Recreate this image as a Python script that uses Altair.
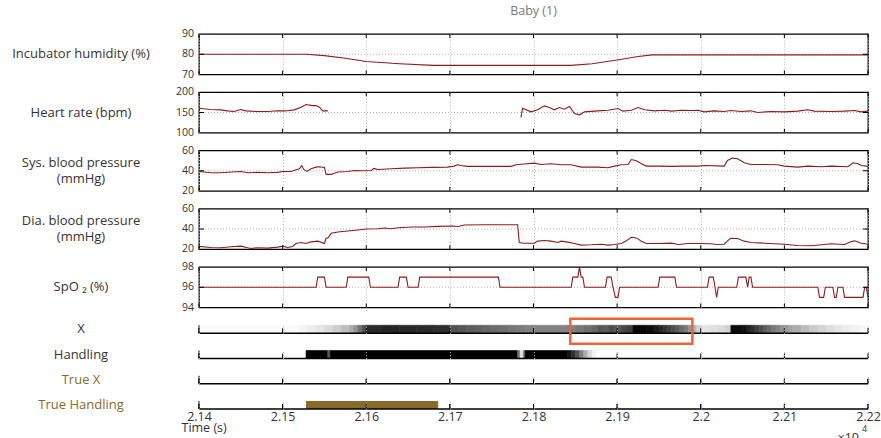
import altair as alt
import pandas as pd

FONT = "Open Sans"
RED = "#8e1b1b"
INK = "#333333"
GOLD = "#8a6a2a"
GRID = "#b4b4b4"
BOX = "#f06432"

T_START, T_END = 2.14, 2.22
X_TICKS = [2.14, 2.15, 2.16, 2.17, 2.18, 2.19, 2.20, 2.21, 2.22]

W = 669
H_LINE = 40.5
H_STRIP = 8
LABEL_X = -118

# ---- physiological signals (time in units of 10^4 s) ----
HUM_T = [2.14, 2.1528, 2.155, 2.1575, 2.16, 2.164, 2.168, 2.1845, 2.187, 2.19, 2.1925, 2.1942, 2.22]
HUM_V = [80, 80, 79.3, 78.0, 76.4, 75.3, 74.5, 74.5, 75.3, 77.2, 78.9, 79.7, 79.7]

HR1_T = [2.14, 2.1414, 2.1426, 2.1434, 2.1442, 2.145, 2.1456, 2.147, 2.1482, 2.1494, 2.15,
         2.1506, 2.1514, 2.1522, 2.1528, 2.1536, 2.154, 2.1544, 2.1548, 2.1554]
HR1_V = [160.6, 157.4, 156.5, 154.0, 152.4, 157.4, 154.0, 152.4, 152.4, 154.5, 154.0,
         154.5, 156.5, 163.0, 169.6, 167.0, 167.0, 163.0, 154.0, 154.0]
HR2_T = [2.1785, 2.1787, 2.1797, 2.1805, 2.1813, 2.1819, 2.1825, 2.1831, 2.1837, 2.1843,
         2.1849, 2.1855, 2.1861, 2.1877, 2.1889, 2.1901, 2.1907, 2.1917, 2.1925, 2.1933,
         2.1945, 2.1957, 2.1965, 2.1977, 2.1989, 2.1997, 2.2004, 2.2016, 2.2028, 2.2036,
         2.2048, 2.206, 2.2068, 2.2084, 2.21, 2.2116, 2.2128, 2.2136, 2.2156, 2.2172,
         2.2184, 2.2192, 2.22]
HR2_V = [138.0, 160.6, 151.6, 156.6, 166.4, 162.3, 156.6, 162.3, 158.2, 164.7,
         147.5, 144.3, 151.6, 154.1, 155.7, 159.8, 153.3, 155.7, 162.3, 156.6,
         154.1, 155.7, 153.3, 155.7, 154.9, 155.7, 151.6, 154.1, 152.5, 154.9,
         152.5, 154.1, 150.0, 152.5, 151.6, 153.3, 156.6, 153.3, 152.5, 153.3,
         154.9, 151.6, 153.3]

SYS_T = [2.14, 2.14144, 2.14263, 2.14383, 2.14502, 2.14582, 2.14702, 2.14821, 2.14941, 2.15001,
         2.151, 2.1516, 2.152, 2.15228, 2.15252, 2.15292, 2.1534, 2.154, 2.1544, 2.155,
         2.1552, 2.1558, 2.1566, 2.1578, 2.1586, 2.1594, 2.1606, 2.1609, 2.1614, 2.163,
         2.1646, 2.1662, 2.1678, 2.1697, 2.1705, 2.1709, 2.1713, 2.1721, 2.1741, 2.1773,
         2.1779, 2.1789, 2.1801,
         2.1809, 2.1821, 2.1833, 2.1845, 2.1857, 2.1877, 2.1889, 2.1897, 2.1905, 2.1913,
         2.1917, 2.1923, 2.1929, 2.1935, 2.1949, 2.1965, 2.1981, 2.1997, 2.2004, 2.2028,
         2.2032, 2.2038, 2.2044, 2.2052, 2.206, 2.2076, 2.2092, 2.21, 2.2116, 2.2128,
         2.2144, 2.2156, 2.2176, 2.2182, 2.2188, 2.2192, 2.22]
SYS_V = [39.3, 38.0, 38.0, 38.7, 39.3, 38.0, 38.4, 38.0, 38.4, 39.3,
         39.3, 41.0, 42.0, 45.2, 41.3, 39.3, 42.0, 43.6, 43.9, 43.3,
         36.4, 36.4, 38.7, 39.3, 40.3, 40.0, 40.3, 42.3, 41.3, 42.0,
         42.6, 43.0, 43.3, 43.6, 44.6, 45.9, 45.2, 44.3, 44.3, 44.3,
         45.9, 46.6, 47.5,
         46.2, 46.9, 45.9, 45.9, 43.6, 43.6, 43.0, 44.6, 45.9, 46.2,
         51.1, 49.8, 46.9, 44.6, 44.6, 44.3, 44.6, 44.6, 45.2, 44.6,
         50.2, 52.5, 51.8, 47.9, 46.2, 46.2, 45.9, 44.6, 43.6, 44.6,
         43.9, 44.6, 43.9, 47.9, 46.9, 45.2, 44.3]

DIA_T = [2.14, 2.14144, 2.14263, 2.14383, 2.14502, 2.14582, 2.14622, 2.14702, 2.14821, 2.14941,
         2.15001, 2.1506, 2.1512, 2.1516, 2.1522, 2.1528, 2.1534, 2.1542, 2.155, 2.1552,
         2.15547, 2.1558, 2.1566, 2.1578, 2.159, 2.16, 2.1614, 2.1622, 2.163, 2.1638,
         2.1654, 2.167, 2.1686, 2.1705, 2.1709, 2.1717, 2.1741, 2.1761, 2.1781, 2.1783,
         2.1789, 2.1801,
         2.1805, 2.1813, 2.1821, 2.1829, 2.1833, 2.1841, 2.1849, 2.1857, 2.1869, 2.1881,
         2.1889, 2.1897, 2.1905, 2.1911, 2.1917, 2.1923, 2.1929, 2.1935, 2.1949, 2.1965,
         2.1973, 2.1985, 2.1997, 2.2012, 2.202, 2.2028, 2.2032, 2.2036, 2.2044, 2.2052,
         2.206, 2.2076, 2.21, 2.2116, 2.2132, 2.2148, 2.2156, 2.2172, 2.218, 2.2184,
         2.2192, 2.22]
DIA_V = [22.8, 21.8, 21.5, 22.4, 23.1, 21.5, 20.8, 21.5, 21.1, 22.1,
         23.1, 21.8, 22.8, 25.7, 26.7, 25.7, 27.3, 28.0, 25.7, 30.9,
         31.5, 35.8, 37.1, 38.0, 39.0, 40.0, 40.3, 41.0, 40.3, 41.3,
         42.0, 42.0, 42.6, 42.9, 42.3, 43.9, 44.2, 44.2, 44.2, 26.7,
         26.0, 26.0,
         28.0, 28.6, 28.0, 26.7, 28.0, 27.0, 25.7, 24.1, 24.4, 25.0,
         24.1, 24.7, 25.7, 28.3, 31.9, 31.2, 28.0, 25.7, 25.7, 26.0,
         24.7, 25.7, 25.7, 25.4, 24.7, 25.0, 28.3, 30.9, 30.6, 28.0,
         26.7, 26.0, 25.0, 23.7, 23.4, 24.7, 25.4, 24.7, 27.6, 28.3,
         26.0, 25.0]

SPO2_T = [2.14, 2.1540, 2.1542, 2.1550, 2.1552, 2.1576, 2.1578, 2.1603, 2.1605,
          2.1638, 2.1640, 2.1648, 2.1650, 2.1662, 2.1664, 2.1758, 2.1760,
          2.1845, 2.1847, 2.1853, 2.1855, 2.1857, 2.1859, 2.1861,
          2.1886, 2.1888, 2.1893, 2.1895, 2.1898, 2.1901, 2.1903,
          2.1949, 2.1951, 2.1969, 2.1971,
          2.2008, 2.2010, 2.2015, 2.2017, 2.2019, 2.2021,
          2.2043, 2.2045, 2.2054, 2.2056, 2.2058, 2.2060, 2.2062,
          2.2140, 2.2142, 2.2147, 2.2149, 2.2158, 2.2160, 2.2162, 2.2164,
          2.2170, 2.2172, 2.2194, 2.2196, 2.2198, 2.2200]
SPO2_V = [96, 96, 97, 97, 96, 96, 97, 97, 96,
          96, 97, 97, 96, 96, 97, 97, 96,
          96, 97, 97, 98, 97, 97, 96,
          96, 97, 97, 96, 95, 95, 96,
          96, 97, 97, 96,
          96, 97, 97, 96, 95, 96,
          96, 97, 97, 96, 97, 97, 96,
          96, 95, 95, 96, 96, 95, 95, 96,
          96, 95, 95, 96, 96, 95]

# ---- detector output strips: segment start times and probability ----
X_SEG_T = [2.14, 2.152, 2.153, 2.154, 2.155, 2.156, 2.157, 2.158, 2.1585, 2.159, 2.1595,
           2.16, 2.162, 2.164, 2.166, 2.168, 2.17, 2.171, 2.172, 2.173, 2.174, 2.175,
           2.176, 2.177, 2.178, 2.179, 2.18, 2.184, 2.185, 2.186, 2.187, 2.1877, 2.1885,
           2.189, 2.1897, 2.1905, 2.1912, 2.1919, 2.1935, 2.1945, 2.195, 2.1955, 2.196,
           2.1965, 2.197, 2.1975, 2.198, 2.1985, 2.199, 2.1995, 2.2, 2.201, 2.202, 2.203,
           2.2036, 2.205, 2.2055, 2.206, 2.2065, 2.207, 2.2075, 2.208, 2.2085, 2.209,
           2.2095, 2.21, 2.2105, 2.211, 2.212, 2.213, 2.214, 2.215, 2.216, 2.217, 2.218,
           2.219]
X_SEG_P = [0.02, 0.04, 0.07, 0.10, 0.14, 0.19, 0.25, 0.33, 0.42, 0.55, 0.68,
           0.84, 0.86, 0.85, 0.84, 0.82, 0.68, 0.66, 0.64, 0.62, 0.60, 0.58,
           0.56, 0.54, 0.52, 0.50, 0.49, 0.50, 0.53, 0.56, 0.60, 0.66, 0.64,
           0.70, 0.66, 0.72, 0.76, 0.97, 0.95, 0.90, 0.85, 0.80, 0.75,
           0.70, 0.65, 0.58, 0.52, 0.42, 0.30, 0.18, 0.10, 0.12, 0.14, 0.18,
           0.96, 0.94, 0.88, 0.82, 0.76, 0.70, 0.64, 0.58, 0.52, 0.48,
           0.44, 0.40, 0.36, 0.32, 0.26, 0.21, 0.17, 0.13, 0.10, 0.07, 0.05,
           0.03]

HAND_SEG_T = [2.14, 2.1528, 2.1554, 2.1557, 2.1781, 2.1784, 2.1788, 2.1790, 2.1841,
              2.1845, 2.1850, 2.1855, 2.1860, 2.1865, 2.1870, 2.1875]
HAND_SEG_P = [0.0, 1.0, 0.65, 1.0, 0.55, 0.12, 0.55, 1.0, 0.92,
              0.82, 0.68, 0.50, 0.32, 0.16, 0.05, 0.0]

TRUE_HAND_T = [2.1528]
TRUE_HAND_T2 = [2.1686]

HIGHLIGHT_T = [2.1844]
HIGHLIGHT_T2 = [2.1990]


def series(ts, vs, seg=0):
    return pd.DataFrame({"t": ts, "v": vs, "seg": seg})


def segments(ts, ps):
    ends = ts[1:] + [T_END]
    return pd.DataFrame({"t0": ts, "t1": ends, "p": ps})


def xscale():
    return alt.Scale(domain=[T_START, T_END], nice=False, zero=False)


def x_enc(field, axis=None):
    if axis is None:
        return alt.X(f"{field}:Q", scale=xscale())
    return alt.X(f"{field}:Q", scale=xscale(), axis=axis)


def grid_axis(labels=False, title=None, zindex=0):
    kw = dict(values=X_TICKS, grid=True, gridDash=[1, 2], gridColor=GRID, gridWidth=1,
              ticks=False, domain=False, labels=labels, zindex=zindex)
    if labels:
        kw.update(format=".3~g", labelFontSize=12.5, labelColor=INK, labelPadding=1,
                  labelFlush=False, labelFont=FONT, labelOverlap=False,
                  title=title, titleFont=FONT, titleFontSize=12.5, titleFontWeight="normal",
                  titleColor=INK, titleAlign="left", titleAnchor="start", titleBaseline="middle",
                  titleX=-18, titleY=18)
    else:
        kw.update(title=None)
    return alt.Axis(**kw)


def side_label(text, color=INK):
    return alt.Chart(pd.DataFrame({"s": [text]})).mark_text(
        font=FONT, fontSize=13, color=color, align="center", baseline="middle",
        lineBreak="\n", lineHeight=16
    ).encode(text="s:N", x=alt.value(LABEL_X), y=alt.value(0))


ticks_df = pd.DataFrame({"t": X_TICKS})


def line_panel(df, lo, mid, hi, label, lines=1):
    yscale = alt.Scale(domain=[lo, hi], nice=False, zero=False)

    def y_enc():
        return alt.Y("v:Q", scale=yscale, axis=None)

    # horizontal dotted grid at the middle tick
    mid_df = pd.DataFrame({"v": [mid]})
    hgrid = alt.Chart(mid_df).mark_rule(color=GRID, strokeWidth=1, strokeDash=[1, 2]).encode(
        y=y_enc(), x=alt.value(0), x2=alt.value(W))
    line = alt.Chart(df).mark_line(color=RED, strokeWidth=1.1, clip=True).encode(
        x=x_enc("t", grid_axis()),
        y=y_enc(),
        detail="seg:N",
    )
    top = alt.Chart(ticks_df).mark_rule(color="black", strokeWidth=1).encode(
        x=x_enc("t"), y=alt.value(0), y2=alt.value(4))
    bot = alt.Chart(ticks_df).mark_rule(color="black", strokeWidth=1).encode(
        x=x_enc("t"), y=alt.value(H_LINE), y2=alt.value(H_LINE - 4))
    yl = alt.Chart(mid_df).mark_rule(color="black", strokeWidth=1).encode(
        y=y_enc(), x=alt.value(0), x2=alt.value(5))
    yr = alt.Chart(mid_df).mark_rule(color="black", strokeWidth=1).encode(
        y=y_enc(), x=alt.value(W), x2=alt.value(W - 5))
    ylabels = alt.Chart(pd.DataFrame({"v": [lo, mid, hi]})).mark_text(
        font=FONT, fontSize=10.5, color=INK, align="right", baseline="middle").encode(
        y=y_enc(), x=alt.value(-5), text=alt.Text("v:Q", format="d"))
    lab = side_label(label).encode(y=alt.value(H_LINE / 2 - 8 * (lines - 1)))
    return [hgrid, line, top, bot, yl, yr, ylabels, lab]


def framed(layers):
    return alt.layer(*layers).properties(
        width=W, height=H_LINE,
        view=alt.ViewBackground(stroke="black", strokeWidth=1.3))


def strip_panel(label, label_color=INK, segs=None, bar=None, bar_color=GOLD,
                last=False, extra=None):
    axis = grid_axis(labels=last, title="Time (s)" if last else None, zindex=1)
    layers = []
    base_ticks = alt.Chart(ticks_df).mark_rule(color="black", strokeWidth=1).encode(
        x=x_enc("t", axis), y=alt.value(H_STRIP), y2=alt.value(H_STRIP - 5))
    if segs is not None:
        gray = alt.Scale(domain=[0, 1], range=["#ffffff", "#000000"], interpolate="rgb")
        layers.append(alt.Chart(segs).mark_rect(strokeWidth=0.6).encode(
            x=x_enc("t0"), x2="t1:Q",
            color=alt.Color("p:Q", scale=gray, legend=None),
            stroke=alt.Stroke("p:Q", scale=gray, legend=None),
            y=alt.value(0), y2=alt.value(H_STRIP)))
    if bar is not None:
        layers.append(alt.Chart(bar).mark_rect(color=bar_color).encode(
            x=x_enc("t0"), x2="t1:Q", y=alt.value(0), y2=alt.value(H_STRIP)))
    layers.insert(0, base_ticks)
    layers.append(alt.Chart(ticks_df).mark_rule(color="black", strokeWidth=1).encode(
        x=x_enc("t"), y=alt.value(H_STRIP), y2=alt.value(H_STRIP - 5)))
    layers.append(alt.Chart(ticks_df.head(1)).mark_rule(color="black", strokeWidth=1).encode(
        x=x_enc("t"), y=alt.value(0), y2=alt.value(H_STRIP)))
    layers.append(alt.Chart(ticks_df.head(1)).mark_rule(color="black", strokeWidth=1.3).encode(
        x=alt.value(0), x2=alt.value(W), y=alt.value(H_STRIP)))
    if extra:
        layers.extend(extra)
    layers.append(side_label(label, label_color).encode(y=alt.value(H_STRIP / 2)))
    return alt.layer(*layers).properties(width=W, height=H_STRIP)


title_mark = alt.Chart(pd.DataFrame({"s": ["Baby (1)"]})).mark_text(
    font=FONT, fontSize=12.5, color="#7a7a7a", align="center", baseline="middle"
).encode(text="s:N", x=alt.value(W / 2), y=alt.value(-23))
anchor = alt.Chart(pd.DataFrame({"s": [0]})).mark_rule(opacity=0).encode(
    x=alt.value(-197.5), x2=alt.value(-196.5), y=alt.value(-32.5), y2=alt.value(-31.5))

hum = framed(line_panel(series(HUM_T, HUM_V), 70, 80, 90, "Incubator humidity (%)")
             + [title_mark, anchor])
hr = framed(line_panel(pd.concat([series(HR1_T, HR1_V, 0), series(HR2_T, HR2_V, 1)]),
                       100, 150, 200, "Heart rate (bpm)"))
sys_bp = framed(line_panel(series(SYS_T, SYS_V), 20, 40, 60,
                           "Sys. blood pressure\n(mmHg)", lines=2))
dia_bp = framed(line_panel(series(DIA_T, DIA_V), 20, 40, 60,
                           "Dia. blood pressure\n(mmHg)", lines=2))
spo2 = framed(line_panel(series(SPO2_T, SPO2_V), 94, 96, 98, "SpO ₂ (%)"))

highlight = alt.Chart(pd.DataFrame({"t0": HIGHLIGHT_T, "t1": HIGHLIGHT_T2})).mark_rect(
    fillOpacity=0, stroke=BOX, strokeWidth=2.5).encode(
    x=x_enc("t0"), x2="t1:Q", y=alt.value(-6.5), y2=alt.value(18.5))

x_strip = strip_panel("X", segs=segments(X_SEG_T, X_SEG_P), extra=[highlight])
hand_strip = strip_panel("Handling", segs=segments(HAND_SEG_T, HAND_SEG_P))
true_x = strip_panel("True X", label_color=GOLD)

exp_df = pd.DataFrame({"a": ["×10"], "b": ["4"]})
exp_base = alt.Chart(exp_df).mark_text(font=FONT, fontSize=12.5, color=INK, align="right",
                                       baseline="top").encode(
    text="a:N", x=alt.value(W - 9), y=alt.value(31))
exp_pow = alt.Chart(exp_df).mark_text(font=FONT, fontSize=9, color=INK, align="left",
                                      baseline="top").encode(
    text="b:N", x=alt.value(W - 6), y=alt.value(23.5))
true_hand = strip_panel("True Handling", label_color=GOLD,
                        bar=pd.DataFrame({"t0": TRUE_HAND_T, "t1": TRUE_HAND_T2}),
                        last=True, extra=[exp_base, exp_pow])

chart = alt.vconcat(hum, hr, sys_bp, dia_bp, spo2, x_strip, hand_strip, true_x, true_hand,
                    spacing=17.25, bounds="flush").properties(
    padding=0, background="white"
).configure_view(strokeWidth=0).configure_axis(labelFont=FONT, titleFont=FONT)

chart.save("out.html", embed_options={"renderer": "svg", "actions": False})
